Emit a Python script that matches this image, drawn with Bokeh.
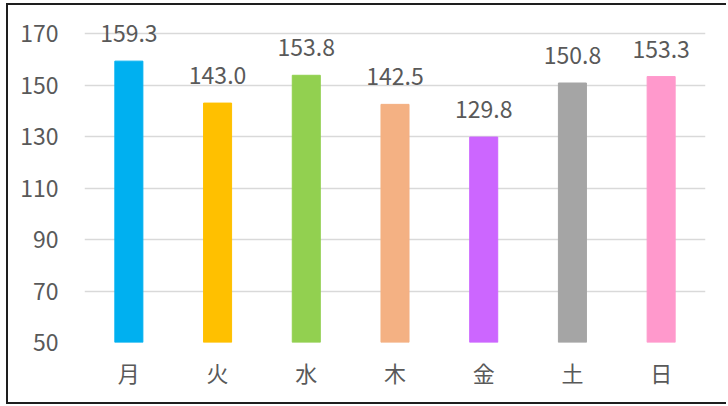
from bokeh.plotting import figure
from bokeh.models import ColumnDataSource, Range1d, FixedTicker, LabelSet
from bokeh.embed import file_html
from bokeh.resources import INLINE
from bokeh.core.properties import value

days = ["月", "火", "水", "木", "金", "土", "日"]
counts = [159.3, 143.0, 153.8, 142.5, 129.8, 150.8, 153.3]
colors = ["#00B0F0", "#FFC000", "#92D050", "#F4B183", "#CC66FF", "#A5A5A5", "#FF99CC"]
y_ticks = [50, 70, 90, 110, 130, 150, 170]

src = ColumnDataSource(dict(day=days, val=counts, color=colors,
                            label=[f"{v:.1f}" for v in counts]))

FONT = "Noto Sans CJK JP"
GREY = "#595959"

p = figure(x_range=days, y_range=Range1d(50, 177.8), width=720, height=401,
           output_backend="svg", toolbar_location=None,
           min_border_left=76, min_border_top=8, min_border_right=23, min_border_bottom=64)
p.margin = (3, 0, 0, 6)
p.styles = {"border-top": "2px solid #1e1e1e", "border-left": "2px solid #1e1e1e",
            "border-bottom": "2px solid #1e1e1e", "box-sizing": "border-box"}
p.outline_line_color = None

p.vbar(x="day", top="val", bottom=50, width=0.316, color="color", source=src)

labels = LabelSet(x="day", y="val", text="label", source=src, text_align="center",
                  text_baseline="alphabetic", y_offset=19, text_color=GREY,
                  text_font=value(FONT), text_font_size="23px")
p.add_layout(labels)

p.yaxis.ticker = FixedTicker(ticks=y_ticks)
for ax in (p.xaxis[0], p.yaxis[0]):
    ax.axis_line_color = None
    ax.major_tick_line_color = None
    ax.minor_tick_line_color = None
    ax.major_label_text_font = FONT
    ax.major_label_text_color = GREY
p.yaxis.major_label_text_font_size = "23px"
p.xaxis.major_label_text_font_size = "22px"
p.yaxis.major_label_standoff = 20
p.xaxis.major_label_standoff = 7

p.xgrid.grid_line_color = None
p.ygrid.grid_line_color = "#D9D9D9"
p.ygrid.grid_line_width = 1.5

open("out.html", "w").write(file_html(p, INLINE))
